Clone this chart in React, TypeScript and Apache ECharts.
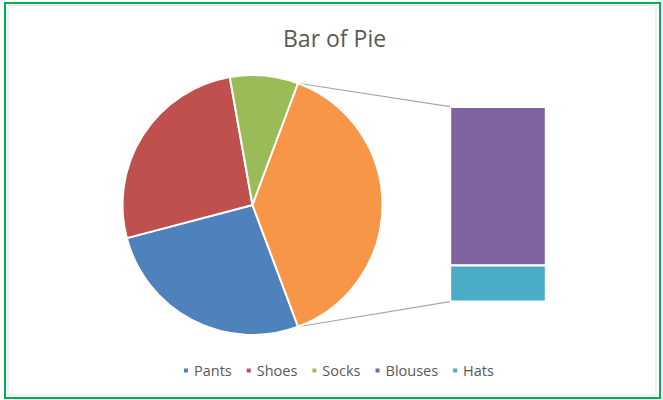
import React, { useEffect, useRef } from "react";
import * as echarts from "echarts";

const pieCategories = ["Pants", "Shoes", "Socks"];
const pieValues = [26.6, 26.3, 8.5];
const barCategories = ["Blouses", "Hats"];
const barValues = [31.4, 7.2];
const legendItems = ["Pants", "Shoes", "Socks", "Blouses", "Hats"];

const COLORS: Record<string, string> = {
  Pants: "#4F81BD",
  Shoes: "#C0504D",
  Socks: "#9BBB59",
  Other: "#F79646",
  Blouses: "#8064A2",
  Hats: "#4BACC6",
};

const FONT = "Open Sans";
const PIE_CENTER: [number, number] = [252.5, 205];
const PIE_R = 130;

export default function App() {
  const ref = useRef<HTMLDivElement>(null);
  useEffect(() => {
    if (!ref.current) return;
    const chart = echarts.init(ref.current, undefined, { renderer: "svg" });
    const otherTotal = barValues.reduce((a, b) => a + b, 0);
    const total = pieValues.reduce((a, b) => a + b, 0) + otherTotal;
    const otherDeg = (otherTotal / total) * 360;

    const option: any = {
      animation: false,
      backgroundColor: "#ffffff",
      title: {
        text: "Bar of Pie",
        left: 278,
        top: 21,
        textStyle: { fontFamily: FONT, fontSize: 23, fontWeight: "normal", color: "#595959" },
      },
      legend: {
        data: legendItems,
        left: 177,
        top: 358,
        icon: "rect",
        itemWidth: 6,
        itemHeight: 6,
        itemGap: 13,
        textStyle: { fontFamily: FONT, fontSize: 14.5, color: "#595959" },
      },
      grid: { left: 450, top: 106.7, width: 96, height: 195 },
      xAxis: { type: "category", data: ["Other"], show: false },
      yAxis: { type: "value", min: 0, max: otherTotal, show: false },
      series: [
        {
          type: "pie",
          name: "pie",
          center: PIE_CENTER,
          radius: PIE_R,
          startAngle: -otherDeg / 2,
          clockwise: true,
          label: { show: false },
          labelLine: { show: false },
          itemStyle: { borderColor: "#ffffff", borderWidth: 2 },
          data: [
            ...pieCategories.map((c, i) => ({ name: c, value: pieValues[i], itemStyle: { color: COLORS[c] } })),
            { name: "Other", value: otherTotal, itemStyle: { color: COLORS.Other } },
          ],
        },
        ...barCategories
          .map((c, i) => ({
            type: "bar",
            name: c,
            stack: "other",
            barWidth: "100%",
            data: [barValues[i]],
            itemStyle: { color: COLORS[c], borderColor: "#ffffff", borderWidth: 1.2 },
          }))
          .reverse(),
      ],
    };
    chart.setOption(option);

    // connector lines from the "Other" slice edges to the bar's left corners
    const toRad = (d: number) => (d * Math.PI) / 180;
    const a1 = toRad(90 - otherDeg / 2);
    const a2 = toRad(90 + otherDeg / 2);
    const p1 = [PIE_CENTER[0] + PIE_R * Math.sin(a1), PIE_CENTER[1] - PIE_R * Math.cos(a1)];
    const p2 = [PIE_CENTER[0] + PIE_R * Math.sin(a2), PIE_CENTER[1] - PIE_R * Math.cos(a2)];
    const xc = chart.convertToPixel({ xAxisIndex: 0 }, "Other") as number;
    const barLeft = xc - 96 / 2;
    const yTop = chart.convertToPixel({ yAxisIndex: 0 }, otherTotal) as number;
    const yBot = chart.convertToPixel({ yAxisIndex: 0 }, 0) as number;
    chart.setOption({
      graphic: [
        {
          type: "line",
          shape: { x1: p1[0], y1: p1[1], x2: barLeft, y2: yTop },
          style: { stroke: "#a6a6a6", lineWidth: 1.2 },
          z: -1,
        },
        {
          type: "line",
          shape: { x1: p2[0], y1: p2[1], x2: barLeft, y2: yBot },
          style: { stroke: "#a6a6a6", lineWidth: 1.2 },
          z: -1,
        },
        {
          type: "rect",
          shape: { x: 8, y: 5.5, width: 648, height: 389.5 },
          style: { fill: "none", stroke: "#e3e3e3", lineWidth: 1 },
          silent: true,
        },
        {
          type: "rect",
          shape: { x: 5, y: 3, width: 655, height: 395 },
          style: { fill: "none", stroke: "#00b050", lineWidth: 2 },
          silent: true,
        },
      ],
    });
    return () => chart.dispose();
  }, []);
  return (
    <div
      ref={ref}
      style={{ position: "absolute", left: 0, top: 0, width: 663, height: 400 }}
    />
  );
}
